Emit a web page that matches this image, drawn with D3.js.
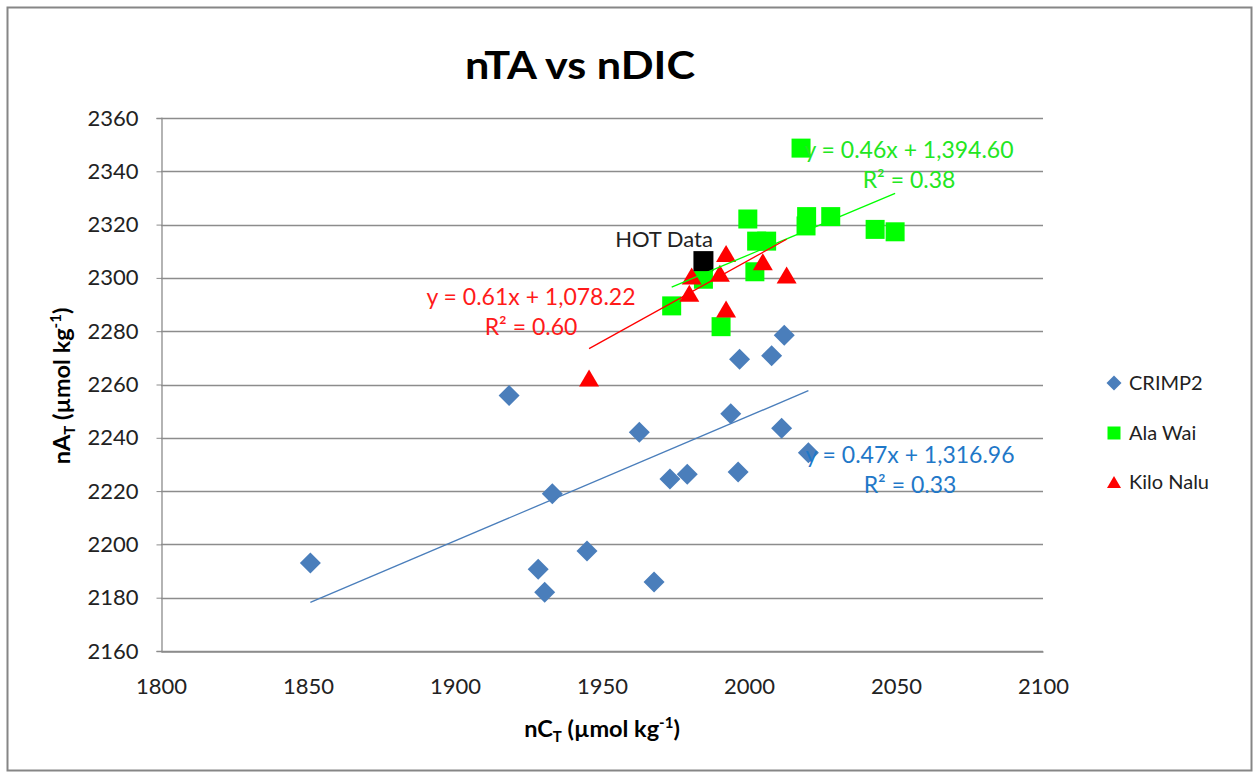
<!DOCTYPE html>
<html><head><meta charset="utf-8">
<script src="https://cdn.jsdelivr.net/npm/d3@7"></script>
<style>
html,body{margin:0;padding:0;background:#fff;}
svg{display:block;font-family:Lato,"Liberation Sans",sans-serif;}
</style></head>
<body>
<svg id="chart" width="1255" height="772"></svg>
<script>
// ---- data ----
const crimpX = [1850.8,1918.4,1933.1,1928.3,1930.5,1944.9,1962.7,1973.1,1979.0,1967.7,1993.8,1996.3,1996.8,2007.7,2012.0,2011.1,2020.2];
const crimpY = [2193.0,2255.9,2219.0,2190.7,2182.0,2197.5,2242.1,2224.5,2226.3,2185.9,2249.0,2227.2,2269.5,2270.8,2278.5,2243.6,2234.4];
const alaX = [2017.7,1999.6,2019.6,2019.4,2027.8,2042.9,2049.7,2002.6,2006.0,2002.0,1984.5,1973.7,1990.5];
const alaY = [2348.7,2322.1,2323.0,2319.5,2323.0,2318.2,2317.3,2313.8,2313.8,2302.3,2299.5,2289.5,2281.7];
const kiloX = [1945.6,1979.7,1980.5,1990.1,1992.2,2004.7,2012.8,1992.2];
const kiloY = [2262.4,2294.2,2300.7,2301.7,2309.2,2306.1,2301.1,2288.3];
const hotX = [1984.5];
const hotY = [2306.3];
const xTicks = [1800,1850,1900,1950,2000,2050,2100];
const yTicks = [2160,2180,2200,2220,2240,2260,2280,2300,2320,2340,2360];
const seriesNames = ["CRIMP2","Ala Wai","Kilo Nalu"];
// linear trendlines as drawn in the reference (CRIMP2, Ala Wai, Kilo Nalu)
const trendSlopes = [0.469, 0.463, 0.611];
const trendIntercepts = [1310.2, 1382.7, 1084.7];
const eqLabels = {
  crimp: ["y = 0.47x + 1,316.96","R\u00B2 = 0.33"],
  ala: ["y = 0.46x + 1,394.60","R\u00B2 = 0.38"],
  kilo: ["y = 0.61x + 1,078.22","R\u00B2 = 0.60"]
};

const svg = d3.select("#chart");
const x = d3.scaleLinear().domain([1800,2100]).range([161,1043]);
const y = d3.scaleLinear().domain([2160,2360]).range([651,118]);

// outer border
svg.append("rect").attr("x",7.5).attr("y",7.5).attr("width",1244).attr("height",763)
  .attr("fill","#fff").attr("stroke","#868686").attr("stroke-width",2);

// title
svg.append("text").attr("x",580).attr("y",79).attr("text-anchor","middle")
  .attr("font-size",39).attr("font-weight","bold").attr("fill","#000")
  .attr("textLength",230).attr("lengthAdjust","spacingAndGlyphs").text("nTA vs nDIC");

// gridlines
svg.append("g").selectAll("line").data(yTicks).join("line")
  .attr("x1",x(1800)).attr("x2",x(2100))
  .attr("y1",d=>Math.round(y(d))+0.5).attr("y2",d=>Math.round(y(d))+0.5)
  .attr("stroke","#8c8c8c").attr("stroke-width",1.3);

// y axis
const yAxis = d3.axisLeft(y).tickValues(yTicks).tickSize(5).tickPadding(18).tickFormat(d3.format("d"));
const gy = svg.append("g").attr("transform",`translate(${x(1800)+0.5},0)`).call(yAxis);
gy.select(".domain").attr("stroke","#8c8c8c").attr("stroke-width",1.3);
gy.selectAll(".tick line").attr("stroke","#8c8c8c");
gy.selectAll(".tick text").attr("font-size",22).attr("font-family","Lato").attr("fill","#222");

// x axis
const xAxis = d3.axisBottom(x).tickValues(xTicks).tickSize(0).tickPadding(27).tickFormat(d3.format("d"));
const gx = svg.append("g").attr("transform",`translate(0,${y(2160)+0.5})`).call(xAxis);
gx.select(".domain").attr("stroke","#8c8c8c").attr("stroke-width",1.3);
gx.selectAll(".tick text").attr("font-size",22).attr("font-family","Lato").attr("fill","#222");

// axis titles
function axisTitle(sel, main, sub){
  sel.append("tspan").text(main);
  sel.append("tspan").attr("font-size",15).attr("dy",5).text(sub);
  sel.append("tspan").attr("dy",-5).text(" (\u00B5mol kg");
  sel.append("tspan").attr("font-size",15).attr("dy",-9).text("-1");
  sel.append("tspan").attr("dy",9).text(")");
}
const xt = svg.append("text").attr("x",602).attr("y",737).attr("text-anchor","middle")
  .attr("font-size",23.5).attr("font-weight","bold").attr("fill","#000");
axisTitle(xt, "nC", "T");
const yt = svg.append("text").attr("transform","translate(70,386) rotate(-90)").attr("text-anchor","middle")
  .attr("font-size",23.5).attr("font-weight","bold").attr("fill","#000");
axisTitle(yt, "nA", "T");

// markers
const diamond = s => `M0,${-s}L${s},0L0,${s}L${-s},0Z`;
const square = s => `M${-s},${-s}H${s}V${s}H${-s}Z`;
const tri = (w,h) => `M0,${-h/2}L${w/2},${h/2}L${-w/2},${h/2}Z`;

function markers(xs, ys, path, fill){
  svg.append("g").selectAll("path").data(xs.map((v,i)=>[v,ys[i]])).join("path")
    .attr("d",path).attr("fill",fill)
    .attr("transform",d=>`translate(${x(d[0])},${y(d[1])})`);
}
markers(crimpX, crimpY, diamond(10.5), "#4a7ebb");
markers(alaX, alaY, square(9.5), "#00ff00");
markers(kiloX, kiloY, tri(20,17), "#ff0000");
markers(hotX, hotY, square(10), "#000000");

// trendlines spanning each series' x range
function trend(xs, slope, intercept, color){
  const x0 = d3.min(xs), x1 = d3.max(xs);
  svg.append("line").attr("x1",x(x0)).attr("y1",y(intercept+slope*x0))
    .attr("x2",x(x1)).attr("y2",y(intercept+slope*x1))
    .attr("stroke",color).attr("stroke-width",1.3);
}
trend(crimpX, trendSlopes[0], trendIntercepts[0], "#4a7ebb");
trend(alaX, trendSlopes[1], trendIntercepts[1], "#00ff00");
trend(kiloX, trendSlopes[2], trendIntercepts[2], "#ff0000");

// trendline labels
function eqLabel(lines, cx, cy, color){
  svg.append("text").attr("x",cx).attr("y",cy+8).attr("text-anchor","middle")
    .attr("font-size",23).attr("fill",color).text(lines[0]);
  svg.append("text").attr("x",cx).attr("y",cy+38).attr("text-anchor","middle")
    .attr("font-size",23).attr("fill",color).text(lines[1]);
}
eqLabel(eqLabels.ala, 909, 150, "#22e622");
eqLabel(eqLabels.kilo, 531, 297, "#ff1a1a");
eqLabel(eqLabels.crimp, 910, 455, "#1f78c8");

// HOT Data label
svg.append("text").attr("x",664).attr("y",247).attr("text-anchor","middle")
  .attr("font-size",22).attr("fill","#222").text("HOT Data");

// legend
const lg = svg.append("g");
const legendItems = [
  {name:seriesNames[0], path:diamond(7.5), fill:"#4a7ebb", cy:383},
  {name:seriesNames[1], path:square(6.5), fill:"#00ff00", cy:433},
  {name:seriesNames[2], path:tri(14,12), fill:"#ff0000", cy:482}
];
legendItems.forEach(it=>{
  lg.append("path").attr("d",it.path).attr("fill",it.fill).attr("transform",`translate(1114,${it.cy})`);
  lg.append("text").attr("x",1129).attr("y",it.cy+7).attr("font-size",20).attr("fill","#222").text(it.name);
});
</script>
</body></html>
